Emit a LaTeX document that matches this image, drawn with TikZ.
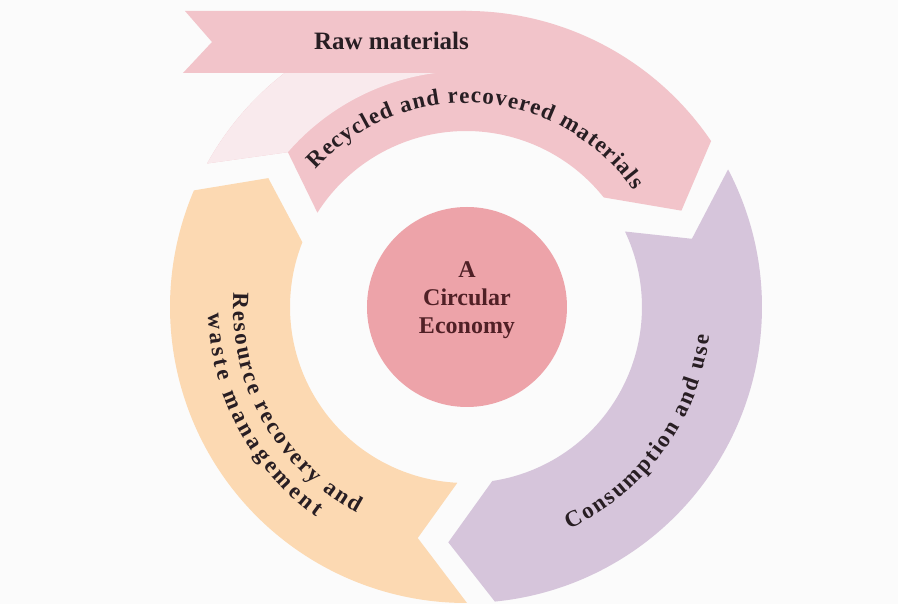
\documentclass[tikz,border=0pt]{standalone}
\usepackage{fontspec}
\setmainfont{Liberation Serif}
\usetikzlibrary{decorations.text}
\definecolor{bgc}{RGB}{251,251,251}
\definecolor{pinkc}{RGB}{242,196,202}
\definecolor{faintc}{RGB}{249,234,237}
\definecolor{orangec}{RGB}{252,217,178}
\definecolor{purplec}{RGB}{214,197,219}
\definecolor{hubc}{RGB}{237,163,169}
\definecolor{inkc}{RGB}{40,30,35}
\definecolor{hubink}{RGB}{80,32,38}
\tikzset{
  segfill/.style={draw=none},
  curvetext/.style={decorate, decoration={text along path, text align=fit to path, text color=inkc}},
  flatlabel/.style={font=\bfseries\fontsize{25}{27}\selectfont, text=inkc, inner sep=0pt},
  hubtext/.style={font=\bfseries\fontsize{24}{28}\selectfont, text=hubink, align=center, inner sep=0pt},
}
\begin{document}
\begin{tikzpicture}[x=1pt,y=1pt]
\fill[bgc] (-466,-297) rectangle (432,307);
\useasboundingbox (-466,-297) rectangle (432,307);
% pink segment (recycled)
\fill[pinkc, segfill] (151:296) arc[start angle=151,end angle=34.1,radius=296] -- (24.1:236) -- (38.5:176) arc[start angle=38.5,end angle=147.6,radius=176] -- (139:236) -- cycle;
% faint outer tail of pink segment
\fill[faintc, segfill] (151:296) -- (139:236) arc[start angle=139,end angle=90,radius=236] -- (90:296) arc[start angle=90,end angle=151,radius=296] -- cycle;
% raw materials band
\fill[pinkc, segfill] (-281,296) -- (0,296) -- (0,234) -- (-283,234) -- (-254,265) -- cycle;
% purple segment
\fill[purplec, segfill] (27.7:296) arc[start angle=27.7,end angle=-84.4,radius=296] -- (-94.3:236) -- (-81.4:176) arc[start angle=-81.4,end angle=25.4,radius=176] -- (16.8:236) -- cycle;
% orange segment
\fill[orangec, segfill] (-89.8:296) arc[start angle=-89.8,end angle=-203.2,radius=296] -- (-213.1:236) -- (-201.6:176) arc[start angle=-201.6,end angle=-92.8,radius=176] -- (-101.8:236) -- cycle;
% hub
\node[circle, fill=hubc, minimum size=200pt, inner sep=0pt] (hub) at (1,0) {};
\node[hubtext] (hublabel) at (1,7) {A\\Circular\\Economy};
% straight label
\node[flatlabel, anchor=base] (raw) at (-74.5,257) {Raw materials};
% curved labels
\path[curvetext, decoration={text={|\bfseries\fontsize{23}{23}\selectfont|Recycled and recovered materials}}] (137.5:204) arc[start angle=137.5,end angle=34.8,radius=204];
\path[curvetext, decoration={text={|\bfseries\fontsize{23}{23}\selectfont|Consumption and use}}] (-65.1:245) arc[start angle=-65.1,end angle=-6.7,radius=245];
\path[curvetext, decoration={text={|\bfseries\fontsize{23}{23}\selectfont|Resource recovery and}}] (176.5:233) arc[start angle=176.5,end angle=242,radius=233];
\path[curvetext, decoration={text={|\bfseries\fontsize{23}{23}\selectfont|waste management}}] (181.5:258) arc[start angle=181.5,end angle=234.5,radius=258];
\end{tikzpicture}
\end{document}
